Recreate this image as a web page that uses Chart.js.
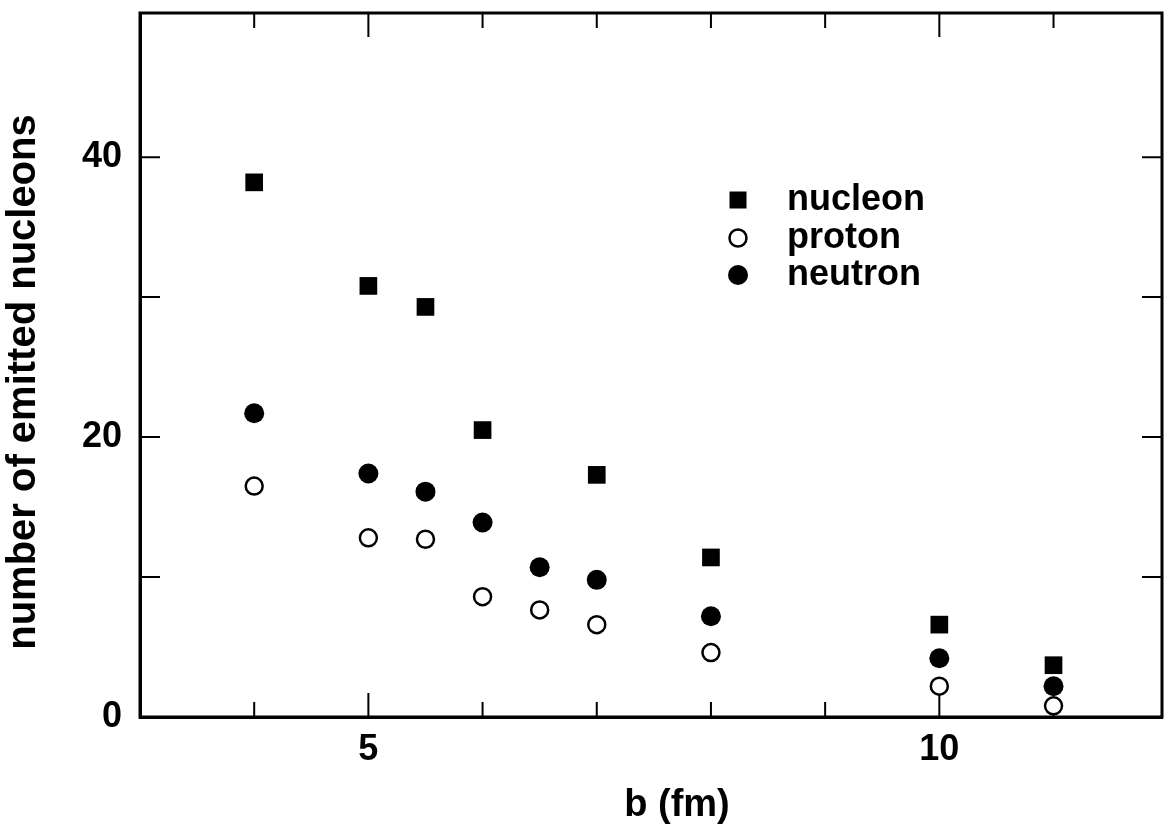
<!DOCTYPE html>
<html>
<head>
<meta charset="utf-8">
<script src="https://cdn.jsdelivr.net/npm/chart.js@4/dist/chart.umd.min.js"></script>
<style>
  html, body { margin: 0; padding: 0; background: #fff; }
  #wrap { width: 1164px; height: 830px; }
</style>
</head>
<body>
<div id="wrap"><canvas id="grafico" width="1164" height="830"></canvas></div>
<script>
// dati
var bNucleon = [4, 5, 5.5, 6, 7, 8, 10, 11];
var nucleon  = [38.2, 30.8, 29.3, 20.5, 17.3, 11.4, 6.6, 3.7];
var bProton  = [4, 5, 5.5, 6, 6.5, 7, 8, 10, 11];
var proton   = [16.5, 12.8, 12.7, 8.6, 7.65, 6.6, 4.6, 2.2, 0.8];
var bNeutron = [4, 5, 5.5, 6, 6.5, 7, 8, 10, 11];
var neutron  = [21.7, 17.4, 16.1, 13.9, 10.7, 9.8, 7.2, 4.2, 2.2];
var xTickLabels = [5, 10];
var yTickLabels = [0, 20, 40];
var xTitle = 'b (fm)';
var yTitle = 'number of emitted nucleons';

var FONT = '"Liberation Sans", Arial, Helvetica, sans-serif';

function punti(xs, ys) {
  return xs.map(function (x, i) { return { x: x, y: ys[i] }; });
}

// tacche interne, cornice, titoli e legenda
var cornice = {
  id: 'cornice',
  beforeDatasetsDraw: function (chart) {
    var ctx = chart.ctx, a = chart.chartArea;
    var sx = chart.scales.x, sy = chart.scales.y;
    ctx.save();
    ctx.strokeStyle = '#000';
    ctx.lineWidth = 2;
    for (var v = 4; v <= 11; v++) {
      var px = sx.getPixelForValue(v);
      var len = (v % 5 === 0) ? 24 : 15;
      ctx.beginPath();
      ctx.moveTo(px, a.bottom); ctx.lineTo(px, a.bottom - len);
      ctx.moveTo(px, a.top); ctx.lineTo(px, a.top + len);
      ctx.stroke();
    }
    for (var w = 10; w <= 40; w += 10) {
      var py = sy.getPixelForValue(w);
      ctx.beginPath();
      ctx.moveTo(a.left, py); ctx.lineTo(a.left + 20, py);
      ctx.moveTo(a.right, py); ctx.lineTo(a.right - 20, py);
      ctx.stroke();
    }
    ctx.lineWidth = 3;
    ctx.strokeRect(a.left, a.top, a.right - a.left, a.bottom - a.top);
    ctx.restore();
  },
  afterDraw: function (chart) {
    var ctx = chart.ctx;
    ctx.save();
    ctx.fillStyle = '#000';
    ctx.textAlign = 'center';
    ctx.textBaseline = 'middle';
    ctx.font = 'bold 38px ' + FONT;
    ctx.fillText(xTitle, 677, 806);
    ctx.font = 'bold 40px ' + FONT;
    ctx.translate(24, 382);
    ctx.rotate(-Math.PI / 2);
    ctx.fillText(yTitle, 0, 0);
    ctx.restore();

    // legenda
    ctx.save();
    var righe = [200, 238, 275];
    chart.data.datasets.forEach(function (ds, i) {
      var y = righe[i], x = 738;
      ctx.beginPath();
      if (ds.pointStyle === 'rect') {
        ctx.fillStyle = '#000';
        ctx.fillRect(x - 8.5, y - 8.5, 17, 17);
      } else {
        ctx.arc(x, y, ds.pointRadius, 0, Math.PI * 2);
        ctx.fillStyle = ds.backgroundColor;
        ctx.fill();
        if (ds.borderWidth > 0) {
          ctx.lineWidth = ds.borderWidth;
          ctx.strokeStyle = '#000';
          ctx.stroke();
        }
      }
      ctx.fillStyle = '#000';
      ctx.font = 'bold 36px ' + FONT;
      ctx.textAlign = 'left';
      ctx.textBaseline = 'middle';
      ctx.fillText(ds.label, 787, y);
    });
    ctx.restore();
  }
};

var ctxGrafico = document.getElementById('grafico').getContext('2d');
var grafico = new Chart(ctxGrafico, {
  type: 'scatter',
  data: {
    datasets: [{
      label: 'nucleon',
      data: punti(bNucleon, nucleon),
      pointStyle: 'rect',
      pointRadius: 12.5,
      backgroundColor: '#000',
      borderColor: '#000',
      borderWidth: 0
    }, {
      label: 'proton',
      data: punti(bProton, proton),
      pointStyle: 'circle',
      pointRadius: 8.5,
      backgroundColor: '#fff',
      borderColor: '#000',
      borderWidth: 2.5
    }, {
      label: 'neutron',
      data: punti(bNeutron, neutron),
      pointStyle: 'circle',
      pointRadius: 10,
      backgroundColor: '#000',
      borderColor: '#000',
      borderWidth: 0
    }]
  },
  options: {
    responsive: false,
    animation: false,
    layout: { autoPadding: false, padding: { top: 13, right: 2, left: 0, bottom: 0 } },
    plugins: { legend: { display: false }, tooltip: { enabled: false } },
    scales: {
      x: {
        type: 'linear',
        min: 3,
        max: 11.95,
        grid: { display: false, drawTicks: false },
        border: { display: true, color: '#000', width: 3 },
        afterFit: function (scale) {
          scale.height = 113;
          scale.paddingLeft = 0;
          scale.paddingRight = 0;
        },
        ticks: {
          stepSize: 1,
          padding: 11,
          color: '#000',
          font: { family: FONT, size: 36, weight: 'bold' },
          autoSkip: false,
          maxRotation: 0,
          callback: function (v) { return xTickLabels.indexOf(v) >= 0 ? String(v) : ''; }
        }
      },
      y: {
        type: 'linear',
        min: 0,
        max: 50.3,
        grid: { display: false, drawTicks: false },
        border: { display: true, color: '#000', width: 3 },
        afterFit: function (scale) {
          scale.width = 140;
          scale.paddingTop = 0;
          scale.paddingBottom = 0;
        },
        ticks: {
          stepSize: 10,
          padding: 18,
          color: '#000',
          font: { family: FONT, size: 36, weight: 'bold' },
          callback: function (v) { return yTickLabels.indexOf(v) >= 0 ? String(v) : ''; }
        }
      }
    }
  },
  plugins: [cornice]
});
</script>
</body>
</html>
